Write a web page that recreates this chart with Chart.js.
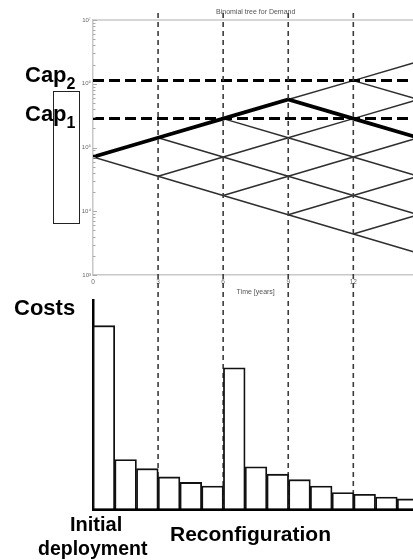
<!DOCTYPE html>
<html>
<head>
<meta charset="utf-8">
<script src="https://cdn.jsdelivr.net/npm/chart.js@4.4.1/dist/chart.umd.min.js"></script>
<style>
  html, body { margin: 0; padding: 0; background: #fff; overflow: hidden; }
  body { width: 413px; height: 560px; position: relative; }
  canvas { position: absolute; left: 0; top: 0; }
  .lbl { position: absolute; font-family: "Liberation Sans", Arial, sans-serif; font-weight: bold; color: #000; white-space: nowrap; }
  .big { font-size: 22px; line-height: 22px; }
  .mid { font-size: 20px; line-height: 20px; }
  .sub { font-size: 16px; position: relative; top: 7px; }
  #box { position: absolute; left: 53px; top: 91px; width: 27px; height: 133px; box-sizing: border-box; border: 1.5px solid #222; }
</style>
</head>
<body>
<canvas id="tree" width="425" height="560"></canvas>
<canvas id="costs" width="425" height="560"></canvas>
<div id="box"></div>
<div class="lbl big" style="left:25px; top:64px">Cap<span class="sub">2</span></div>
<div class="lbl big" style="left:25px; top:103px">Cap<span class="sub">1</span></div>
<div class="lbl big" style="left:14px; top:297px">Costs</div>
<div class="lbl mid" style="left:70px; top:514px">Initial</div>
<div class="lbl mid" style="left:38px; top:538px; font-size:19.5px">deployment</div>
<div class="lbl mid" style="left:170px; top:524px; font-size:21px">Reconfiguration</div>
<script>
// binomial demand tree (years, demand per node, low to high)
const treeTimes = [0, 3, 6, 9, 12, 15];
const treeDemand = [
  [71000],
  [35500, 142000],
  [17700, 71000, 284000],
  [8800, 35500, 142000, 568000],
  [4400, 17700, 71000, 284000, 1120000],
  [2200, 8800, 35500, 142000, 568000, 2240000]
];
// highlighted path through the tree
const pathDemand = [71000, 142000, 284000, 568000, 284000, 142000];
// capacity levels
const capDemand = [284000, 1120000];
const decisionYears = [3, 6, 9, 12];
const timeTicks = [0, 3, 6, 9, 12, 15];
const demandTicks = [1e3, 1e4, 1e5, 1e6, 1e7];
const demandTickLabels = ['10³', '10⁴', '10⁵', '10⁶', '10⁷'];

// costs per year
const costPeriods = [0, 1, 2, 3, 4, 5, 6, 7, 8, 9, 10, 11, 12, 13, 14];
const costValues = [100, 27, 22, 17.5, 14.5, 12.5, 77, 23, 19, 16, 12.5, 9, 8, 6.5, 5.5];

Chart.defaults.font.family = '"Liberation Sans", Arial, sans-serif';

const edges = [];
for (let j = 0; j < treeTimes.length - 1; j++) {
  treeDemand[j].forEach((d, i) => {
    [i, i + 1].forEach(k => {
      edges.push([{x: treeTimes[j], y: d}, {x: treeTimes[j + 1], y: treeDemand[j + 1][k]}]);
    });
  });
}

const datasets = [
  {data: treeTimes.map((t, i) => ({x: t, y: pathDemand[i]})), borderColor: '#000', borderWidth: 3.8},
  ...capDemand.map(c => ({data: [{x: 0, y: c}, {x: 15, y: c}], borderColor: '#000', borderWidth: 3, borderDash: [11, 5]})),
  ...edges.map(e => ({data: e, borderColor: '#2e2e2e', borderWidth: 1.5}))
];

const treeFrame = {
  id: 'treeFrame',
  afterDatasetsDraw(chart) {
    const {ctx, chartArea: a, scales: {x, y}} = chart;
    ctx.save();
    ctx.strokeStyle = '#c8c8c8';
    ctx.lineWidth = 1.5;
    ctx.beginPath();
    ctx.moveTo(a.left, a.top);
    ctx.lineTo(a.right, a.top);
    ctx.stroke();
    ctx.lineWidth = 1;
    ctx.strokeStyle = '#aaa';
    y.ticks.forEach(t => {
      const py = Math.round(y.getPixelForValue(t.value)) + 0.5;
      const len = demandTicks.includes(t.value) ? 4 : 2.5;
      ctx.beginPath();
      ctx.moveTo(a.left, py);
      ctx.lineTo(a.left + len, py);
      ctx.stroke();
    });
    ctx.strokeStyle = '#3c3c3c';
    ctx.lineWidth = 1.6;
    ctx.setLineDash([5, 4]);
    decisionYears.forEach(t => {
      const px = x.getPixelForValue(t);
      ctx.beginPath();
      ctx.moveTo(px, 13);
      ctx.lineTo(px, 509);
      ctx.stroke();
    });
    ctx.restore();
  }
};

new Chart(document.getElementById('tree'), {
  type: 'line',
  data: {datasets},
  options: {
    responsive: false,
    animation: false,
    devicePixelRatio: 1,
    layout: {padding: {top: 0, left: 0, right: 6, bottom: 260}},
    elements: {point: {radius: 0}, line: {tension: 0, fill: false}},
    plugins: {
      legend: {display: false},
      tooltip: {enabled: false},
      title: {
        display: true, fullSize: false, text: 'Binomial tree for Demand', color: '#555',
        font: {size: 7, weight: 'normal'}, padding: {top: 8, bottom: 3.6}
      }
    },
    scales: {
      x: {
        type: 'linear', min: 0, max: 15,
        afterBuildTicks: s => { s.ticks = timeTicks.map(v => ({value: v})); },
        afterFit: s => { s.height = 25; },
        grid: {display: true, drawOnChartArea: false, drawTicks: false},
        border: {color: '#c8c8c8', width: 1.5},
        ticks: {color: '#666', font: {size: 6.5}, padding: 3, maxRotation: 0, autoSkip: false},
        title: {display: true, text: 'Time [years]', color: '#555', font: {size: 7}, padding: {top: 0, bottom: 4}}
      },
      y: {
        type: 'logarithmic', min: 1e3, max: 1e7,
        afterBuildTicks: s => {
          const t = [];
          demandTicks.forEach((d, i) => {
            t.push({value: d});
            if (i < demandTicks.length - 1) for (let m = 2; m < 10; m++) t.push({value: m * d});
          });
          s.ticks = t;
        },
        afterFit: s => { s.width = 93; },
        grid: {display: true, drawOnChartArea: false, drawTicks: false},
        border: {color: '#c8c8c8', width: 1.5},
        ticks: {
          color: '#666', font: {size: 6}, padding: 2, autoSkip: false,
          callback: v => { const i = demandTicks.indexOf(v); return i >= 0 ? demandTickLabels[i] : ''; }
        }
      }
    }
  },
  plugins: [treeFrame]
});

new Chart(document.getElementById('costs'), {
  type: 'bar',
  data: {
    datasets: [{
      data: costPeriods.map((p, i) => ({x: p + 0.5, y: costValues[i]})),
      backgroundColor: '#fff',
      borderColor: '#111',
      borderWidth: 1.8,
      barPercentage: 1,
      categoryPercentage: 1
    }]
  },
  options: {
    responsive: false,
    animation: false,
    devicePixelRatio: 1,
    layout: {padding: {top: 300, left: 0, right: 6, bottom: 51}},
    plugins: {legend: {display: false}, tooltip: {enabled: false}},
    scales: {
      x: {
        type: 'linear', min: 0, max: 15, offset: false,
        afterFit: s => { s.height = 0; },
        ticks: {display: false},
        grid: {display: true, offset: false, drawOnChartArea: false, drawTicks: false},
        border: {color: '#000', width: 3}
      },
      y: {
        min: 0, max: 114,
        afterFit: s => { s.width = 93; },
        ticks: {display: false},
        grid: {display: true, drawOnChartArea: false, drawTicks: false},
        border: {color: '#000', width: 2.5}
      }
    }
  }
});
</script>
</body>
</html>
